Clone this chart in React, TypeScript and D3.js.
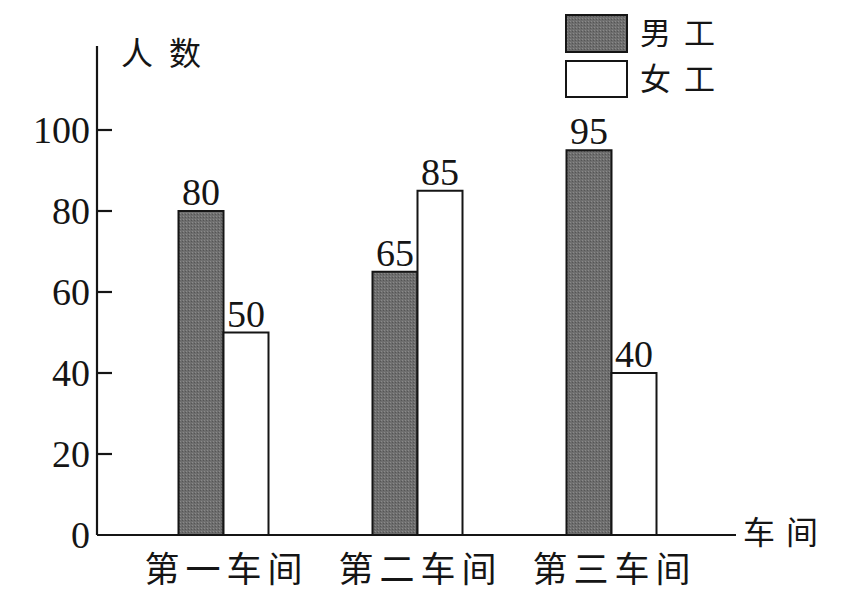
import React from "react";
import * as d3 from "d3";

const categories = ["第一车间", "第二车间", "第三车间"];
const maleValues = [80, 65, 95];
const femaleValues = [50, 85, 40];
const yTicks = [0, 20, 40, 60, 80, 100];
const seriesNames = ["男工", "女工"];
const yTitle = "人数";
const xTitle = "车间";

const W = 841;
const H = 595;
const x0 = 97;
const yBase = 535;
const yTopAxis = 46;
const xEndAxis = 736;
const barW = 45;
const DARK = "#6e6e6e";
const INK = "#151515";
const serif = "'Liberation Serif', 'Times New Roman', serif";
const cjk = "'Noto Sans CJK SC', 'Noto Sans CJK JP', sans-serif";

export default function App() {
  const y = d3.scaleLinear().domain([0, 100]).range([yBase, 130]);
  const x = d3.scaleBand<string>().domain(categories).range([126.5, 708.5]);
  const center = (c: string) => (x(c) as number) + x.bandwidth() / 2;

  return (
    <svg width={W} height={H} style={{ position: "absolute", left: 0, top: 0, background: "#fff" }}>
      <defs>
        <pattern id="stip" width="3" height="3" patternUnits="userSpaceOnUse">
          <rect width="3" height="3" fill={DARK} />
          <rect width="1" height="1" fill="#8a8a8a" />
          <rect x="2" y="1" width="1" height="1" fill="#555" />
        </pattern>
      </defs>
      {/* axes */}
      <line x1={x0} y1={yTopAxis} x2={x0} y2={yBase} stroke={INK} strokeWidth={2.2} />
      <line x1={x0} y1={yBase} x2={xEndAxis} y2={yBase} stroke={INK} strokeWidth={2.2} />
      {yTicks.map((t) => (
        <g key={t}>
          {t !== 0 && <line x1={x0} x2={x0 + 15} y1={y(t)} y2={y(t)} stroke={INK} strokeWidth={2.2} />}
          <text x={90} y={y(t)} dy="0.35em" textAnchor="end" fontFamily={serif} fontSize={38} fill={INK}>
            {t}
          </text>
        </g>
      ))}
      <text x={121} y={54} dy="0.35em" textAnchor="start" fontFamily={cjk} fontSize={32} letterSpacing={16} fill={INK}>
        {yTitle}
      </text>
      <text x={743} y={533} dy="0.35em" textAnchor="start" fontFamily={cjk} fontSize={32} letterSpacing={11} fill={INK}>
        {xTitle}
      </text>
      {/* bars */}
      {categories.map((c, i) => {
        const cx = center(c);
        return (
          <g key={c}>
            <rect x={cx - barW} y={y(maleValues[i])} width={barW} height={yBase - y(maleValues[i])} fill="url(#stip)" stroke={INK} strokeWidth={2} />
            <rect x={cx} y={y(femaleValues[i])} width={barW} height={yBase - y(femaleValues[i])} fill="#fff" stroke={INK} strokeWidth={2} />
            <text x={cx - barW / 2} y={y(maleValues[i]) - 6} textAnchor="middle" fontFamily={serif} fontSize={38} fill={INK}>
              {maleValues[i]}
            </text>
            <text x={cx + barW / 2} y={y(femaleValues[i]) - 6} textAnchor="middle" fontFamily={serif} fontSize={38} fill={INK}>
              {femaleValues[i]}
            </text>
            <text x={cx + 3} y={570} dy="0.35em" textAnchor="middle" fontFamily={cjk} fontSize={35} letterSpacing={6} fill={INK}>
              {c}
            </text>
          </g>
        );
      })}
      {/* legend */}
      <rect x={566} y={15} width={61} height={37} fill="url(#stip)" stroke={INK} strokeWidth={2} />
      <rect x={566} y={61} width={61} height={36} fill="#fff" stroke={INK} strokeWidth={2} />
      <text x={640} y={33} dy="0.35em" fontFamily={cjk} fontSize={31} letterSpacing={13} fill={INK}>
        {seriesNames[0]}
      </text>
      <text x={640} y={79} dy="0.35em" fontFamily={cjk} fontSize={31} letterSpacing={13} fill={INK}>
        {seriesNames[1]}
      </text>
    </svg>
  );
}
